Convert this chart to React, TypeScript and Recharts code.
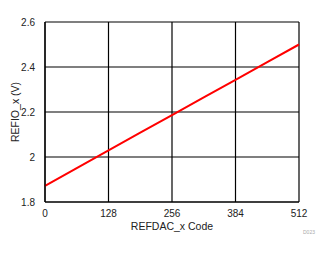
import { LineChart, Line, XAxis, YAxis, CartesianGrid, Label } from 'recharts';

// REFDAC_x code vs REFIO_x voltage
const codes = [0, 64, 128, 192, 256, 320, 384, 448, 512];
const refio = [1.872, 1.951, 2.029, 2.108, 2.186, 2.265, 2.343, 2.422, 2.5];
const xTicks = [0, 128, 256, 384, 512];
const yTicks = [1.8, 2, 2.2, 2.4, 2.6];

const data = codes.map((c, i) => ({ code: c, v: refio[i] }));

const font = '"Liberation Sans", Arial, sans-serif';

export default function App() {
  return (
    <div style={{ position: 'absolute', left: 0, top: 0, width: 332, height: 254, background: '#fff' }}>
      <LineChart width={332} height={254} data={data}
        margin={{ top: 22, right: 33, left: 0, bottom: 22 }}>
        <CartesianGrid stroke="#000" strokeWidth={1.2} />
        <XAxis dataKey="code" type="number" domain={[0, 512]} ticks={xTicks}
          axisLine={{ stroke: '#000', strokeWidth: 1.2 }} tickLine={false} height={30}
          tick={{ fill: '#222', fontSize: 10, fontFamily: font }} tickMargin={2}>
          <Label value="REFDAC_x Code" position="insideBottom" offset={2}
            style={{ fill: '#222', fontSize: 10.5, fontFamily: font }} />
        </XAxis>
        <YAxis type="number" domain={[1.8, 2.6]} ticks={yTicks} width={45}
          axisLine={{ stroke: '#000', strokeWidth: 1.2 }} tickLine={false}
          tick={{ fill: '#222', fontSize: 10, fontFamily: font }} tickMargin={4}>
          <Label value="REFIO_x (V)" angle={-90} position="insideLeft" offset={15}
            style={{ fill: '#222', fontSize: 10.5, fontFamily: font, textAnchor: 'middle' }} />
        </YAxis>
        <Line type="linear" dataKey="v" stroke="#ff0000" strokeWidth={2} dot={false}
          isAnimationActive={false} />
      </LineChart>
      <div style={{ position: 'absolute', left: 303, top: 229, fontSize: 5, color: '#aaa', fontFamily: font }}>
        D023
      </div>
    </div>
  );
}
